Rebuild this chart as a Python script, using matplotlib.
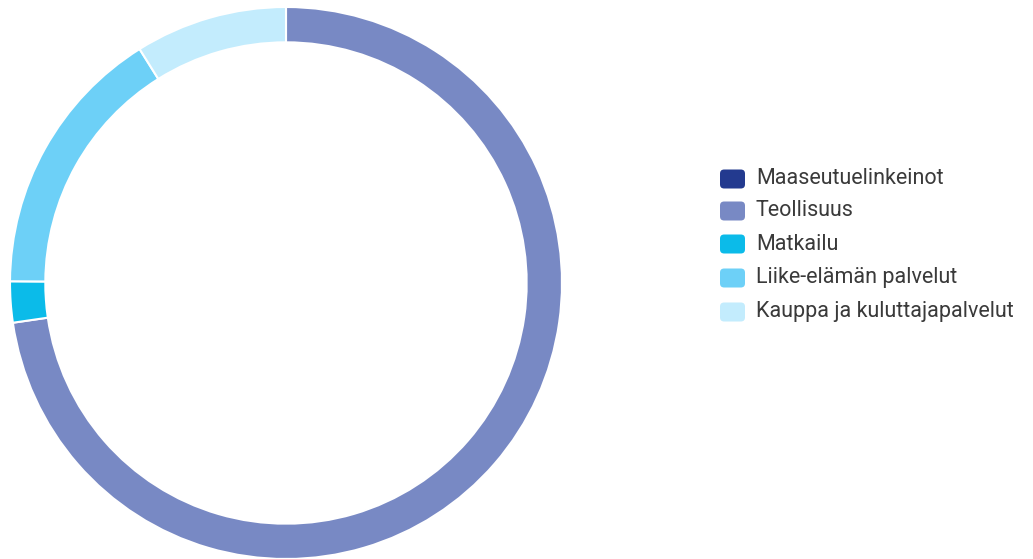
import matplotlib
matplotlib.use("Agg")
import matplotlib.pyplot as plt
from matplotlib.patches import FancyBboxPatch

categories = ["Maaseutuelinkeinot", "Teollisuus", "Matkailu",
              "Liike-elämän palvelut", "Kauppa ja kuluttajapalvelut"]
values = [0.0, 72.7, 2.4, 16.0, 8.9]
colors = ["#233a8f", "#7889c4", "#0bbbe9", "#6dd0f7", "#c3ecfd"]

W, H = 1033, 559
fig = plt.figure(figsize=(W / 100, H / 100), dpi=100)
fig.patch.set_facecolor("white")

cx, cy, r = 286, 283, 276
ax = fig.add_axes([(cx - r) / W, (H - cy - r) / H, 2 * r / W, 2 * r / H])
ax.pie(values, colors=colors, startangle=90, counterclock=False, radius=1,
       wedgeprops=dict(width=0.128, edgecolor="white", linewidth=1.5))
ax.set_xlim(-1, 1)
ax.set_ylim(-1, 1)
ax.set_aspect("equal")
ax.axis("off")

row_y = [179, 211, 244, 278, 312]
sq_x, sq_w, sq_h = 720, 25, 19
for cat, col, y in zip(categories, colors, row_y):
    p = FancyBboxPatch((sq_x / W, (H - y - sq_h / 2) / H), sq_w / W, sq_h / H,
                       boxstyle="round,pad=0,rounding_size=0.004",
                       transform=fig.transFigure, facecolor=col,
                       edgecolor="none", mutation_aspect=W / H)
    fig.patches.append(p)
    fig.text(756 / W, (H - y) / H, cat, fontsize=15.5, color="#3a3a3a",
             va="center", ha="left",
             family=["Liberation Sans Narrow", "Roboto", "DejaVu Sans"])

fig.savefig("out.png", dpi=100)
